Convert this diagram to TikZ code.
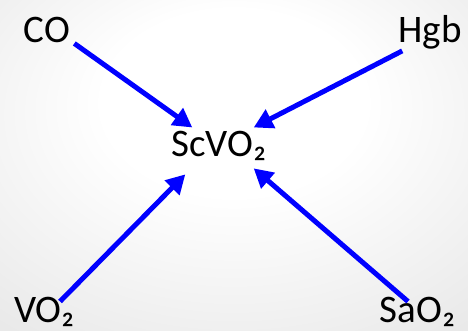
\documentclass[tikz,border=0pt]{standalone}
\usepackage{fontspec}
\setmainfont{Carlito}
\usepackage{tikz}
\usetikzlibrary{arrows.meta}
\pgfdeclareradialshading{backdrop}{\pgfpoint{0bp}{12bp}}{color(0bp)=(white); color(14bp)=(white); color(68bp)=(black!19)}
\tikzstyle{label} = [inner sep=0pt, anchor=base, font=\fontsize{39}{47}\selectfont]
\tikzstyle{link} = [draw, blue, line width=5pt]

\begin{document}
\begin{tikzpicture}[x=1pt, y=1pt, >={Triangle[length=19pt,width=20pt]}]
    % background
    \shade [shading=backdrop] (0,0) rectangle (468,331);
    \useasboundingbox (0,0) rectangle (468,331);

    % place the quantities
    \node [label] (sc) at (219,174) {ScVO₂};
    \node [label] (co) at (47,288) {CO};
    \node [label] (hgb) at (430,288) {Hgb};
    \node [label] (vo) at (44.5,8) {VO₂};
    \node [label] (sa) at (417.5,8) {SaO₂};

    % every arrow points at ScVO2
    \draw [link,->] ([xshift=4pt]co.south east) -- ([xshift=21pt,yshift=4pt]sc.north west);
    \draw [link,->] ([xshift=4pt,yshift=-1pt]hgb.south west) -- ([xshift=-13pt,yshift=4pt]sc.north east);
    \draw [link,->] ([xshift=15.5pt,yshift=-4pt]vo.north) -- ([xshift=14pt,yshift=-13pt]sc.south west);
    \draw [link,->] ([xshift=-9.5pt,yshift=-4pt]sa.north) -- ([xshift=-13pt,yshift=-7pt]sc.south east);
\end{tikzpicture}
\end{document}
